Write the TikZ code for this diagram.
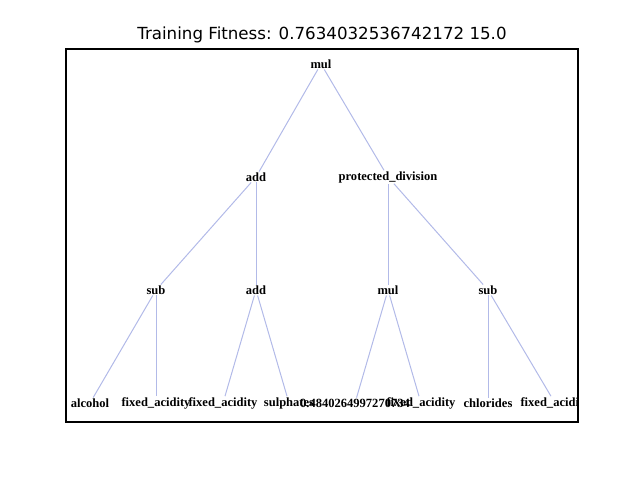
\documentclass[tikz,border=0pt]{standalone}
\usepackage{fontspec}
\setmainfont{Liberation Serif}
\newfontfamily\titlefont{DejaVu Sans}
\usetikzlibrary{positioning}
\definecolor{edgeblue}{RGB}{178,186,232}
\tikzset{
    mynode/.style={
    font=\fontsize{9.4}{11}\selectfont\bfseries,
    inner sep=0.6pt
  },
    myedge/.style={
    draw=edgeblue,
    line width=0.75pt
  }
}

\begin{document}
\begin{tikzpicture}[x=0.75pt, y=-0.75pt]
  \useasboundingbox (0,0) rectangle (640,480);
  \node[font=\titlefont\fontsize{12.5}{15}\selectfont] (title) at (322,35) {Training Fitness: 0.7634032536742172 15.0};

  \begin{scope}
  \clip (66,49) rectangle (578,422);
  \node[mynode] (n_1) at (321,64) {mul};
  \node[mynode] (n_2) at (256,177) {add};
  \node[mynode] (n_3) at (388,177) {protected\_division};
  \node[mynode] (n_4) at (156,290) {sub};
  \node[mynode] (n_5) at (256,290) {add};
  \node[mynode] (n_6) at (388,290) {mul};
  \node[mynode] (n_7) at (488,290) {sub};
  \node[mynode] (n_8) at (90,403) {alcohol};
  \node[mynode] (n_9) at (156,403) {fixed\_acidity};
  \node[mynode] (n_10) at (223,403) {fixed\_acidity};
  \node[mynode] (n_11) at (289,403) {sulphates};
  \node[mynode] (n_12) at (355,403) {0.4840264997270734};
  \node[mynode] (n_13) at (421,403) {fixed\_acidity};
  \node[mynode] (n_14) at (488,403) {chlorides};
  \node[mynode] (n_15) at (555,403) {fixed\_acidity};

  \draw[myedge] (n_1) -- (n_2);
  \draw[myedge] (n_1) -- (n_3);
  \draw[myedge] (n_2) -- (n_4);
  \draw[myedge] (n_2) -- (n_5);
  \draw[myedge] (n_3) -- (n_6);
  \draw[myedge] (n_3) -- (n_7);
  \draw[myedge] (n_4) -- (n_8);
  \draw[myedge] (n_4) -- (n_9);
  \draw[myedge] (n_5) -- (n_10);
  \draw[myedge] (n_5) -- (n_11);
  \draw[myedge] (n_6) -- (n_12);
  \draw[myedge] (n_6) -- (n_13);
  \draw[myedge] (n_7) -- (n_14);
  \draw[myedge] (n_7) -- (n_15);
  \end{scope}

  \draw[line width=0.8pt] (66,49) rectangle (578,422);
\end{tikzpicture}
\end{document}
